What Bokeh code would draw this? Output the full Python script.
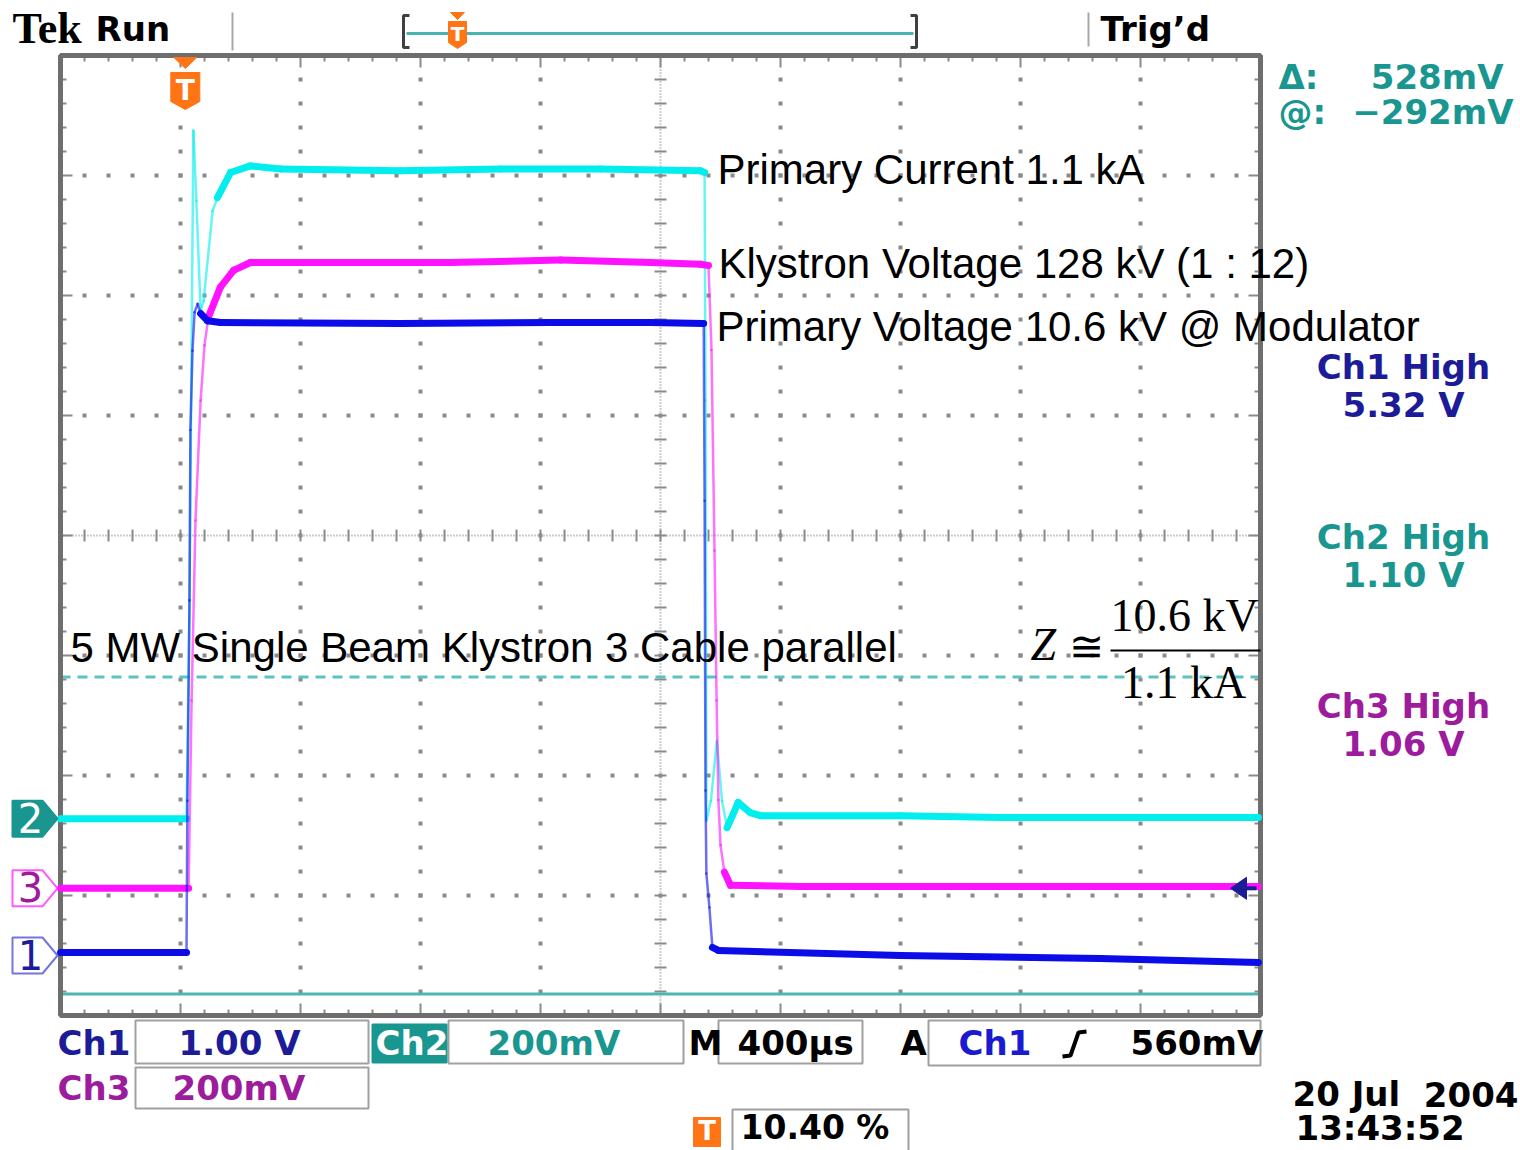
import numpy as np
from bokeh.plotting import figure
from bokeh.models import Range1d
from bokeh.embed import file_html
from bokeh.resources import INLINE
from bokeh.core.properties import value

time_per_div_us = 400.0          # M 400 us
trigger_frac = 0.104             # trigger position 10.40 %
n_div_x, n_div_y = 10, 8

# Ch1 : primary voltage (1.00 V/div)
ch1_t = [-416, 4, 7, 14, 17, 24, 31, 41, 51, 74, 117, 717, 1217, 1551, 1728,
         1731, 1734, 1737, 1747, 1757, 1777, 2384, 3051, 3577]
ch1_v = [0.025, 0.025, 1.29, 2.96, 4.38, 5.04, 5.36, 5.43, 5.35, 5.29, 5.275,
         5.267, 5.275, 5.275, 5.267, 3.79, 1.375, 0.683, 0.40, 0.067, 0.042,
         0.0, -0.025, -0.058]
# Ch2 : primary current (200 mV/div)
ch2_t = [-416, 4, 14, 27, 37, 51, 61, 91, 107, 151, 217, 317, 717, 1051, 1384,
         1717, 1731, 1734, 1737, 1752, 1772, 1789, 1806, 1843, 1883, 1917,
         2384, 2717, 3577]
ch2_v = [0.0, 0.0, 0.363, 1.147, 1.03, 0.847, 0.863, 1.013, 1.035, 1.077, 1.088,
         1.083, 1.080, 1.083, 1.083, 1.080, 1.077, 0.697, -0.003, 0.03, 0.13,
         0.03, -0.015, 0.027, 0.01, 0.005, 0.005, 0.002, 0.002]
# Ch3 : klystron voltage (200 mV/div)
ch3_t = [-416, 11, 21, 34, 51, 64, 77, 117, 161, 217, 384, 884, 1251, 1551,
         1717, 1744, 1754, 1764, 1771, 1777, 1784, 1797, 1817, 2051, 3577]
ch3_v = [0.0, 0.0, 0.313, 0.613, 0.813, 0.905, 0.952, 1.002, 1.03, 1.043, 1.043,
         1.043, 1.047, 1.043, 1.040, 1.038, 0.897, 0.563, 0.313, 0.147, 0.072,
         0.027, 0.005, 0.003, 0.003]

ch_names = ["1", "2", "3"]
ch_volts_per_div = {"1": 1.0, "2": 0.2, "3": 0.2}
ch_ground_div = {"1": -3.50, "2": -2.36, "3": -2.94}
ch_colors = {"1": "#0c0ce8", "2": "#00eeee", "3": "#ff12ff"}
ch_label_colors = {"1": "#1c1c98", "2": "#1a9690", "3": "#9c1c9c"}
ch_high_values = {"1": "5.32 V", "2": "1.10 V", "3": "1.06 V"}
ch_scale_texts = {"1": "1.00 V", "2": "200mV", "3": "200mV"}
cursor_at_V = -0.292            # @: -292 mV (Ch2)
cursor_delta_V = 0.528          # delta: 528 mV
trigger_level_V = 0.56          # A Ch1 560 mV

annotations = ["Primary Current 1.1 kA",
               "Klystron Voltage 128 kV (1 : 12)",
               "Primary Voltage 10.6 kV @ Modulator",
               "5 MW Single Beam Klystron 3 Cable parallel"]

# ---------------- layout helpers (page pixel -> graticule divisions) ----------------
W, H = 1520, 1150
DIV = 120.0
GX0, GY0 = 60.0, 535.0


def X(px):
    return (px - GX0) / DIV


def Y(py):
    return (GY0 - py) / DIV


p = figure(width=W, height=H, x_range=Range1d(X(0), X(W)),
           y_range=Range1d(Y(H), Y(0)), x_axis_type=None, y_axis_type=None,
           toolbar_location=None, output_backend="svg", min_border=0,
           outline_line_color=None, background_fill_color="white",
           border_fill_color="white", title=None)

BASE_CORR = 0.39


def txt(px, py, s, color="black", size=33, font="DejaVu Sans", style="bold",
        align="left"):
    # py is the wanted alphabetic baseline in page pixels
    p.text(x=[X(px)], y=[Y(py - BASE_CORR * size)], text=[s], text_color=color,
           text_font=value(font), text_font_size=value(f"{size}px"),
           text_font_style=style, text_align=align, text_baseline="alphabetic")


def box(l, r, t, b, fill="white", line="#a0a0a0", lw=2):
    p.quad(left=[X(l)], right=[X(r)], top=[Y(t)], bottom=[Y(b)],
           fill_color=fill, line_color=line, line_width=lw)


# ---------------- graticule ----------------
xmax, ymax = float(n_div_x), n_div_y / 2.0
GRAY = "#8a8a8a"
dx, dy = [], []
for ix in range(1, n_div_x):
    if ix == n_div_x // 2:
        continue
    for k in range(1, n_div_y * 5):
        dx.append(ix); dy.append(-ymax + 0.2 * k)
for iy in range(-int(ymax) + 1, int(ymax)):
    if iy == 0:
        continue
    for k in range(1, n_div_x * 5):
        dx.append(0.2 * k); dy.append(iy)
p.scatter(dx, dy, marker="square", size=4, color=GRAY, line_color=None)

# centre cross with ticks
cx = n_div_x / 2.0
p.segment(x0=[cx, 0], y0=[-ymax, 0], x1=[cx, xmax], y1=[ymax, 0],
          line_color="#9a9a9a", line_width=2, line_dash="1 2")
sx0, sy0, sx1, sy1 = [], [], [], []
t = 0.05
for k in range(1, n_div_y * 5):
    yy = -ymax + 0.2 * k
    sx0.append(cx - t); sx1.append(cx + t); sy0.append(yy); sy1.append(yy)
for k in range(1, n_div_x * 5):
    xx = 0.2 * k
    sx0.append(xx); sx1.append(xx); sy0.append(-t); sy1.append(t)
# edge ticks
for k in range(1, n_div_x * 5):
    xx = 0.2 * k
    L = 0.1 if k % 5 == 0 else 0.05
    sx0 += [xx, xx]; sx1 += [xx, xx]; sy0 += [ymax, -ymax]; sy1 += [ymax - L, -ymax + L]
for k in range(1, n_div_y * 5):
    yy = -ymax + 0.2 * k
    L = 0.1 if k % 5 == 0 else 0.05
    sx0 += [0, xmax]; sx1 += [L, xmax - L]; sy0 += [yy, yy]; sy1 += [yy, yy]
p.segment(x0=sx0, y0=sy0, x1=sx1, y1=sy1, line_color=GRAY, line_width=2)

# cursors (Ch2)
g2 = ch_ground_div["2"]
y_at = g2 + cursor_at_V / ch_volts_per_div["2"]
y_other = g2 + (cursor_at_V + cursor_delta_V) / ch_volts_per_div["2"]
p.line([0, xmax], [y_at, y_at], line_color="#4cb6b2", line_width=3)
p.line([0, xmax], [y_other, y_other], line_color="#5cc2be", line_width=3,
       line_dash="10 7")

# frame
p.quad(left=[0], right=[xmax], top=[ymax], bottom=[-ymax], fill_color=None,
       line_color="#6e6e6e", line_width=5)

# ---------------- traces ----------------
x_trig = trigger_frac * n_div_x
traces = {"1": (ch1_t, ch1_v), "2": (ch2_t, ch2_v), "3": (ch3_t, ch3_v)}
for ch in ["2", "3", "1"]:
    tt, vv = traces[ch]
    xs = x_trig + np.asarray(tt, float) / time_per_div_us
    ys = ch_ground_div[ch] + np.asarray(vv, float) / ch_volts_per_div[ch]
    x0, x1, y0, y1 = xs[:-1], xs[1:], ys[:-1], ys[1:]
    steep = np.abs(y1 - y0) > 2.5 * np.abs(x1 - x0)
    widths = np.where(steep, 2.5, 7.0)
    alphas = np.where(steep, 0.6, 1.0)
    p.segment(x0=x0, y0=y0, x1=x1, y1=y1, line_color=ch_colors[ch],
              line_width=widths, line_alpha=alphas, line_cap="round")

# trigger level arrow (Ch1, right edge)
y_tl = ch_ground_div["1"] + trigger_level_V / ch_volts_per_div["1"]
p.patch([X(1230), X(1246), X(1246)], [y_tl, y_tl + 11 / DIV, y_tl - 11 / DIV],
        color="#1c1c98")
p.line([X(1244), X(1256)], [y_tl, y_tl], line_color="#1c1c98", line_width=4)

# trigger position marker inside graticule
ORANGE = "#ff7414"
p.patch([x_trig - 11.5 / DIV, x_trig + 11.5 / DIV, x_trig],
        [ymax - 2 / DIV, ymax - 2 / DIV, ymax - 13 / DIV], color=ORANGE)
p.patch([x_trig - 14.5 / DIV, x_trig + 14.5 / DIV, x_trig + 14.5 / DIV, x_trig,
         x_trig - 14.5 / DIV],
        [Y(72), Y(72), Y(101), Y(109), Y(101)], color=ORANGE)
p.text(x=[x_trig], y=[Y(101 - BASE_CORR * 28)], text=["T"], text_color="white",
       text_font=value("DejaVu Sans"), text_font_size=value("28px"),
       text_font_style="bold", text_align="center", text_baseline="alphabetic")

# channel ground markers (left)
for ch in ch_names:
    g = ch_ground_div[ch]
    h = 18 / DIV
    xsr = [X(12), X(42), X(57), X(42), X(12)]
    ysr = [g + h, g + h, g, g - h, g - h]
    if ch == "2":
        p.patch(xsr, ysr, fill_color=ch_label_colors[ch], line_color=ch_label_colors[ch],
                line_width=2)
        tc = "white"
    else:
        p.patch(xsr, ysr, fill_color="white", line_color=ch_colors[ch] if ch == "3" else "#3a3ad0",
                line_width=2, line_alpha=0.7)
        tc = ch_label_colors[ch]
    p.text(x=[X(30)], y=[g - (14.6 - BASE_CORR * 40) / DIV], text=[ch], text_color=tc,
           text_font=value("DejaVu Sans"), text_font_size=value("40px"),
           text_align="center", text_baseline="alphabetic")

# ---------------- annotation texts ----------------
txt(717, 185, annotations[0], size=42, font="Liberation Sans", style="normal")
txt(718, 279, annotations[1], size=42, font="Liberation Sans", style="normal")
txt(716, 342, annotations[2], size=42, font="Liberation Sans", style="normal")
txt(70, 663, annotations[3], size=42, font="Liberation Sans", style="normal")
txt(1030, 662, "Z", size=46, font="Liberation Serif", style="italic")
txt(1068, 662, "\u2245", size=42, font="DejaVu Serif", style="normal")
txt(1184, 633, "10.6 kV", size=46, font="Liberation Serif", style="normal", align="center")
txt(1183, 700, "1.1 kA", size=46, font="Liberation Serif", style="normal", align="center")
p.line([X(1110), X(1260)], [Y(650), Y(650)], line_color="black", line_width=2)

# ---------------- top status bar ----------------
txt(12, 45, "Tek", size=44, font="Liberation Serif", style="bold")
txt(95, 42, "Run", size=34)
p.line([X(232), X(232)], [Y(12), Y(50)], line_color="#a8a8a8", line_width=2)
p.line([X(1088), X(1088)], [Y(12), Y(46)], line_color="#a8a8a8", line_width=2)
txt(1100, 42, "Trig\u2019d", size=34)
p.line([X(406), X(913)], [Y(33), Y(33)], line_color="#48b4b0", line_width=3)
p.multi_line([[X(409), X(403), X(403), X(409)], [X(910), X(916), X(916), X(910)]],
             [[Y(15), Y(15), Y(47), Y(47)], [Y(15), Y(15), Y(47), Y(47)]],
             line_color="#404040", line_width=3)
p.patch([X(450), X(464), X(457)], [Y(12), Y(12), Y(19)], color=ORANGE)
p.patch([X(448), X(466), X(466), X(457), X(448)], [Y(21), Y(21), Y(42), Y(48), Y(42)],
        color=ORANGE)
txt(457, 41, "T", color="white", size=20, align="center")

# ---------------- right read-outs ----------------
TEAL = ch_label_colors["2"]
txt(1278, 90, "\u0394:", color=TEAL, size=34)
txt(1503, 90, "528mV", color=TEAL, size=34, align="right")
txt(1278, 125, "@:", color=TEAL, size=34)
txt(1513, 125, "\u2212292mV", color=TEAL, size=34, align="right")
for ch, base in zip(ch_names, [380, 550, 719]):
    txt(1403, base, f"Ch{ch} High", color=ch_label_colors[ch], size=34, align="center")
    txt(1403, base + 38, ch_high_values[ch], color=ch_label_colors[ch], size=34,
        align="center")

# ---------------- bottom read-outs ----------------
box(135, 368, 1020, 1063)
box(135, 368, 1067, 1108)
box(448, 683, 1020, 1063)
box(718, 862, 1020, 1063)
box(928, 1260, 1020, 1065)
box(732, 908, 1109, 1160)
box(372, 446, 1024, 1062, fill=TEAL, line=TEAL)
txt(57, 1056, "Ch1", color=ch_label_colors["1"], size=34)
txt(178, 1056, ch_scale_texts["1"], color=ch_label_colors["1"], size=34)
txt(375, 1056, "Ch2", color="white", size=34)
txt(487, 1056, ch_scale_texts["2"], color=TEAL, size=34)
txt(688, 1056, "M", size=34)
txt(737, 1056, "400\u00b5s", size=34)
txt(900, 1056, "A", size=34)
txt(958, 1056, "Ch1", color="#1a1ad0", size=34)
p.line([X(1062), X(1070), X(1078), X(1086)], [Y(1056), Y(1055), Y(1032), Y(1031)],
       line_color="black", line_width=4)
txt(1130, 1056, f"{int(round(trigger_level_V * 1000))}mV", size=34)
txt(57, 1101, "Ch3", color=ch_label_colors["3"], size=34)
txt(172, 1101, ch_scale_texts["3"], color=ch_label_colors["3"], size=34)
p.quad(left=[X(693)], right=[X(720)], top=[Y(1117)], bottom=[Y(1146)],
       fill_color=ORANGE, line_color=ORANGE)
txt(706.5, 1141, "T", color="white", size=26, align="center")
txt(740, 1140, f"{trigger_frac * 100:.2f} %", size=33)
txt(1292, 1107, "20 Jul", size=34)
txt(1518, 1107, "2004", size=34, align="right")
txt(1295, 1141, "13:43:52", size=34)

open("out.html", "w").write(file_html(p, INLINE))
